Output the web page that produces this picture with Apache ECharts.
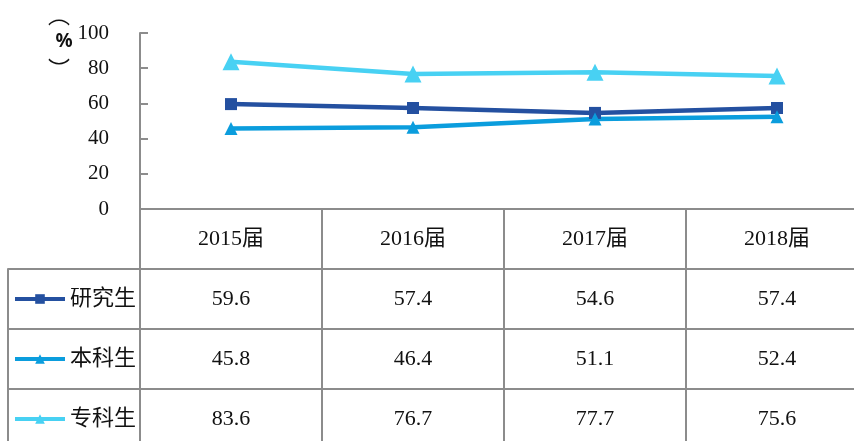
<!DOCTYPE html>
<html>
<head>
<meta charset="utf-8">
<script src="https://cdn.jsdelivr.net/npm/echarts@6/dist/echarts.min.js"></script>
<style>
  html, body { margin: 0; padding: 0; background: #fff; }
  #chart { width: 854px; height: 441px; }
</style>
</head>
<body>
<div id="chart"></div>
<script>
const years = ['2015届', '2016届', '2017届', '2018届'];
const seriesNames = ['研究生', '本科生', '专科生'];
const yanjiusheng = [59.6, 57.4, 54.6, 57.4];
const benkesheng = [45.8, 46.4, 51.1, 52.4];
const zhuankesheng = [83.6, 76.7, 77.7, 75.6];
const yTicks = [0, 20, 40, 60, 80, 100];

const colors = ['#2450a0', '#0b9ddd', '#48d1f3'];
const font = '"Liberation Serif", "Noto Sans CJK SC", serif';
const gridColor = '#8c8c8c';
const allValues = [yanjiusheng, benkesheng, zhuankesheng];

// table cells: row 0 = header, rows 1..3 = values
const cells = [];
years.forEach((y, c) => cells.push({ value: [c, 0], text: y }));
allValues.forEach((vals, r) => {
  vals.forEach((v, c) => cells.push({ value: [c, r + 1], text: v.toFixed(1) }));
});

const legends = seriesNames.map((n, i) => ({
  data: [n],
  left: 13, top: 288 + i * 60, padding: 0,
  itemWidth: 50, itemHeight: 12,
  lineStyle: { width: 4 },
  textStyle: { fontSize: 22, color: '#111', fontFamily: font }
}));

const chart = echarts.init(document.getElementById('chart'));
chart.setOption({
  animation: false,
  textStyle: { fontFamily: font },
  grid: [
    { left: 140, top: 33, width: 728, height: 176, outerBoundsMode: 'none' },
    { left: 140, top: 209, width: 728, height: 240, outerBoundsMode: 'none' },
    { left: 8, top: 269, width: 132, height: 180, outerBoundsMode: 'none' }
  ],
  xAxis: [
    {
      gridIndex: 0, type: 'category', data: years, boundaryGap: true,
      axisLine: { lineStyle: { color: gridColor, width: 2 } },
      axisTick: { show: false }, axisLabel: { show: false }
    },
    {
      gridIndex: 1, type: 'category', data: years, boundaryGap: true,
      axisLine: { show: false }, axisTick: { show: false }, axisLabel: { show: false },
      splitLine: { show: true, lineStyle: { color: gridColor, width: 2 } }
    },
    {
      gridIndex: 2, type: 'category', data: [''], show: false
    }
  ],
  yAxis: [
    {
      gridIndex: 0, type: 'value', min: 0, max: 100, interval: 20,
      axisLine: { show: true, lineStyle: { color: gridColor, width: 2 } },
      axisTick: { show: true, inside: true, length: 8, lineStyle: { color: gridColor, width: 2 } },
      axisLabel: {
        margin: 31, color: '#111', fontSize: 21, fontFamily: font,
        formatter: v => (yTicks.indexOf(v) >= 0 ? String(v) : '')
      },
      splitLine: { show: false }
    },
    {
      gridIndex: 1, type: 'category', inverse: true,
      data: ['', ...seriesNames], boundaryGap: true,
      axisLine: { show: true, lineStyle: { color: gridColor, width: 2 } },
      axisTick: { show: false }, axisLabel: { show: false },
      splitLine: { show: true, lineStyle: { color: gridColor, width: 2 } }
    },
    {
      gridIndex: 2, type: 'category', inverse: true,
      data: seriesNames, boundaryGap: true,
      axisLine: { show: true, lineStyle: { color: gridColor, width: 2 } },
      axisTick: { show: false }, axisLabel: { show: false },
      splitLine: { show: true, lineStyle: { color: gridColor, width: 2 } }
    }
  ],
  legend: legends,
  graphic: [
    { type: 'text', x: 59, y: 15, style: { text: '︵', fontSize: 22, fill: '#111', align: 'center', verticalAlign: 'middle', fontFamily: '"Noto Sans CJK SC", sans-serif' } },
    { type: 'text', x: 64, y: 42, style: { text: '%', fontSize: 19, fontWeight: 'bold', fill: '#111', align: 'center', verticalAlign: 'middle', fontFamily: '"Noto Sans", sans-serif' } },
    { type: 'text', x: 59, y: 69, style: { text: '︶', fontSize: 22, fill: '#111', align: 'center', verticalAlign: 'middle', fontFamily: '"Noto Sans CJK SC", sans-serif' } }
  ],
  series: [
    {
      name: seriesNames[0], type: 'line', xAxisIndex: 0, yAxisIndex: 0,
      data: yanjiusheng, color: colors[0],
      symbol: 'rect', symbolSize: 12,
      lineStyle: { width: 4.5, color: colors[0] }, itemStyle: { color: colors[0] }
    },
    {
      name: seriesNames[1], type: 'line', xAxisIndex: 0, yAxisIndex: 0,
      data: benkesheng, color: colors[1],
      symbol: 'triangle', symbolSize: 13,
      lineStyle: { width: 4.5, color: colors[1] }, itemStyle: { color: colors[1] }
    },
    {
      name: seriesNames[2], type: 'line', xAxisIndex: 0, yAxisIndex: 0,
      data: zhuankesheng, color: colors[2],
      symbol: 'triangle', symbolSize: 17,
      lineStyle: { width: 4.5, color: colors[2] }, itemStyle: { color: colors[2] }
    },
    {
      name: 'table', type: 'scatter', xAxisIndex: 1, yAxisIndex: 1,
      data: cells, symbolSize: 1,
      itemStyle: { color: 'rgba(0,0,0,0)', opacity: 1 },
      silent: true,
      label: {
        show: true, position: 'inside', color: '#111', opacity: 1,
        textBorderWidth: 0, fontSize: 22, fontFamily: font, padding: [4, 0, 0, 0],
        formatter: p => p.data.text
      }
    }
  ]
});
</script>
</body>
</html>
